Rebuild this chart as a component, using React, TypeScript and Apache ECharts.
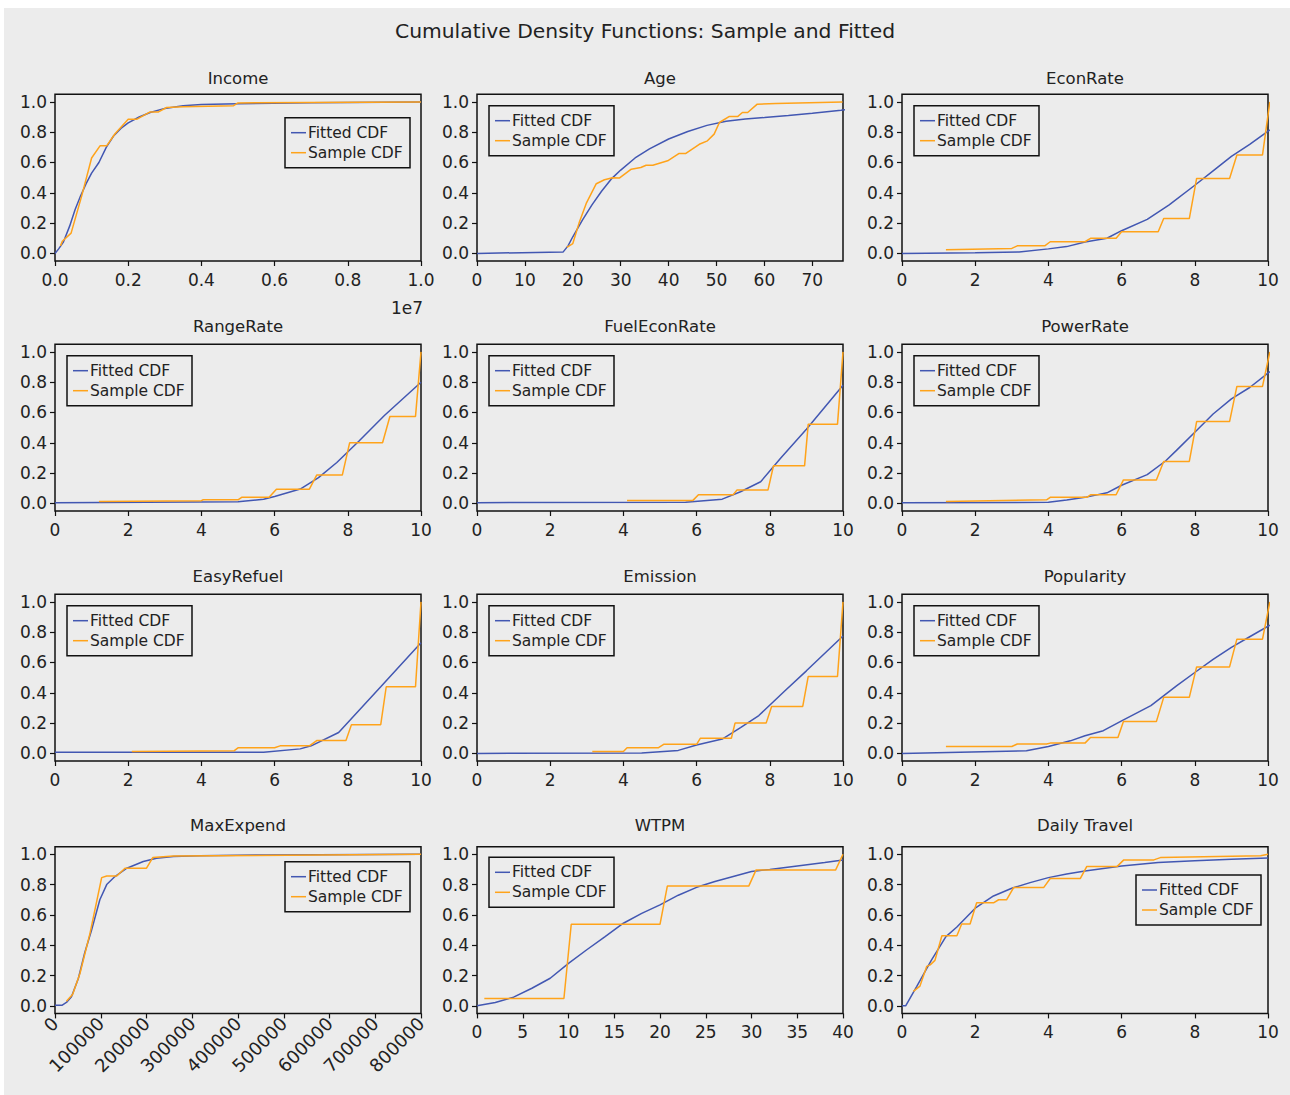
import React, { useEffect, useRef } from "react";
import * as echarts from "echarts";

const mainTitle = "Cumulative Density Functions: Sample and Fitted";
const panelTitles = ["Income", "Age", "EconRate", "RangeRate", "FuelEconRate", "PowerRate", "EasyRefuel", "Emission", "Popularity", "MaxExpend", "WTPM", "Daily Travel"];
const legendLabels = ["Fitted CDF", "Sample CDF"];

const yTicks = [0, 0.2, 0.4, 0.6, 0.8, 1.0];
const tenTicks = [0, 2, 4, 6, 8, 10];
const incomeTicks = [0, 2e6, 4e6, 6e6, 8e6, 1e7];
const ageTicks = [0, 10, 20, 30, 40, 50, 60, 70];
const maxExpendTicks = [0, 100000, 200000, 300000, 400000, 500000, 600000, 700000, 800000];
const wtpmTicks = [0, 5, 10, 15, 20, 25, 30, 35, 40];

const incomeFitted = [[0, 0], [100000, 0.03], [230000, 0.075], [400000, 0.18], [550000, 0.29], [700000, 0.38], [850000, 0.46], [1000000, 0.53], [1200000, 0.6], [1400000, 0.7], [1600000, 0.775], [1800000, 0.825], [2000000, 0.862], [2300000, 0.9], [2600000, 0.93], [3000000, 0.957], [3500000, 0.975], [4000000, 0.982], [5000000, 0.988], [7000000, 0.994], [10000000, 1.0]];
const incomeSample = [[150000, 0.05], [200000, 0.08], [440000, 0.134], [730000, 0.38], [1000000, 0.63], [1230000, 0.71], [1410000, 0.71], [1640000, 0.79], [2000000, 0.885], [2230000, 0.885], [2600000, 0.934], [2830000, 0.934], [3050000, 0.963], [3500000, 0.968], [4880000, 0.975], [5000000, 0.993], [10000000, 1.0]];

const ageFitted = [[0, 0], [18, 0.01], [19, 0.05], [20, 0.11], [22, 0.22], [24, 0.32], [26, 0.41], [28, 0.49], [30, 0.55], [33, 0.63], [36, 0.69], [40, 0.755], [44, 0.805], [48, 0.845], [52, 0.872], [56, 0.887], [60, 0.897], [65, 0.91], [70, 0.925], [76, 0.945], [78.7, 0.955]];
const ageSample = [[18.75, 0.04], [20, 0.065], [21.3, 0.2], [22.8, 0.33], [24.9, 0.46], [26.6, 0.486], [28.3, 0.5], [29.7, 0.497], [32.2, 0.556], [34.2, 0.567], [35.3, 0.582], [36.7, 0.582], [39.8, 0.611], [42.2, 0.66], [43.6, 0.66], [46.4, 0.72], [48.1, 0.743], [49.5, 0.787], [50.6, 0.864], [52.6, 0.903], [54.4, 0.903], [55.4, 0.93], [56.5, 0.93], [58.5, 0.985], [62.4, 0.989], [76.3, 1.0]];

const econFitted = [[0, 0], [2, 0.004], [3.2, 0.01], [4, 0.03], [4.5, 0.045], [5, 0.075], [5.6, 0.1], [6, 0.15], [6.7, 0.225], [7.3, 0.32], [8, 0.45], [8.5, 0.545], [9, 0.64], [9.5, 0.72], [10.05, 0.815]];
const econSample = [[1.2, 0.025], [3.0, 0.033], [3.15, 0.05], [3.9, 0.05], [4.05, 0.077], [5.0, 0.077], [5.15, 0.1], [5.85, 0.1], [6.0, 0.143], [7.0, 0.143], [7.15, 0.23], [7.85, 0.23], [8.05, 0.495], [8.95, 0.495], [9.15, 0.65], [9.85, 0.65], [10.05, 1.0]];

const rangeFitted = [[0, 0.005], [5, 0.011], [5.7, 0.028], [6, 0.046], [6.7, 0.095], [7.2, 0.17], [7.7, 0.27], [8.3, 0.41], [9, 0.58], [10, 0.8]];
const rangeSample = [[1.2, 0.013], [4.0, 0.018], [4.05, 0.024], [5.0, 0.024], [5.1, 0.04], [5.85, 0.04], [6.05, 0.094], [6.95, 0.094], [7.15, 0.187], [7.85, 0.187], [8.05, 0.4], [8.95, 0.4], [9.15, 0.574], [9.85, 0.574], [10.0, 1.0]];

const fuelFitted = [[0, 0.005], [5.7, 0.007], [6.7, 0.028], [7.2, 0.077], [7.75, 0.143], [8.3, 0.3], [9, 0.49], [10, 0.78]];
const fuelSample = [[4.1, 0.02], [5.9, 0.02], [6.05, 0.057], [7.0, 0.057], [7.1, 0.088], [7.95, 0.088], [8.1, 0.248], [8.95, 0.248], [9.05, 0.523], [9.85, 0.523], [10.0, 1.0]];

const powerFitted = [[0, 0.005], [4, 0.007], [4.5, 0.022], [5, 0.04], [5.6, 0.07], [6, 0.12], [6.7, 0.19], [7.2, 0.28], [7.5, 0.35], [8, 0.47], [8.5, 0.59], [9, 0.69], [9.5, 0.765], [10.05, 0.87]];
const powerSample = [[1.2, 0.013], [3.95, 0.024], [4.05, 0.04], [5.05, 0.04], [5.15, 0.057], [5.85, 0.057], [6.05, 0.155], [6.95, 0.155], [7.15, 0.277], [7.85, 0.277], [8.05, 0.54], [8.95, 0.54], [9.15, 0.772], [9.85, 0.772], [10.05, 1.0]];

const refuelFitted = [[0, 0.008], [5.7, 0.008], [6.7, 0.03], [7.0, 0.05], [7.75, 0.138], [8.9, 0.44], [10, 0.73]];
const refuelSample = [[2.1, 0.012], [4.9, 0.018], [5.0, 0.037], [6.0, 0.037], [6.15, 0.05], [6.95, 0.05], [7.15, 0.085], [7.95, 0.085], [8.1, 0.19], [8.9, 0.19], [9.05, 0.44], [9.85, 0.44], [10.0, 1.0]];

const emissionFitted = [[0, 0], [4.5, 0.003], [5.5, 0.02], [6, 0.055], [6.7, 0.095], [7.2, 0.17], [7.7, 0.25], [8.4, 0.41], [9, 0.545], [10, 0.775]];
const emissionSample = [[3.15, 0.013], [4.0, 0.013], [4.1, 0.037], [4.95, 0.037], [5.1, 0.06], [6.0, 0.06], [6.1, 0.1], [6.95, 0.1], [7.05, 0.2], [7.9, 0.2], [8.05, 0.31], [8.9, 0.31], [9.05, 0.508], [9.85, 0.508], [10.0, 1.0]];

const popularityFitted = [[0, 0], [3.4, 0.018], [4, 0.046], [4.6, 0.083], [5, 0.117], [5.5, 0.15], [6, 0.215], [6.8, 0.315], [7.5, 0.446], [8, 0.534], [8.5, 0.62], [9, 0.7], [9.5, 0.77], [10.05, 0.846]];
const popularitySample = [[1.2, 0.046], [3.0, 0.046], [3.15, 0.062], [3.95, 0.062], [4.05, 0.068], [5.0, 0.068], [5.15, 0.105], [5.9, 0.105], [6.05, 0.21], [6.95, 0.21], [7.15, 0.37], [7.85, 0.37], [8.05, 0.571], [8.95, 0.571], [9.15, 0.754], [9.85, 0.754], [10.05, 1.0]];

const maxExpendFitted = [[0, 0.003], [15000, 0.003], [25000, 0.022], [36000, 0.06], [51000, 0.18], [65000, 0.35], [80000, 0.5], [98000, 0.7], [113000, 0.8], [131000, 0.853], [157000, 0.908], [193000, 0.952], [222000, 0.974], [259000, 0.985], [317000, 0.991], [463000, 0.996], [800000, 1.0]];
const maxExpendSample = [[25000, 0.03], [38700, 0.077], [54700, 0.215], [76600, 0.48], [102000, 0.846], [113000, 0.857], [135000, 0.857], [153000, 0.908], [200000, 0.908], [213700, 0.978], [259000, 0.989], [800000, 1.0]];

const wtpmFitted = [[0, 0], [2, 0.022], [4, 0.057], [6, 0.116], [8, 0.182], [10, 0.28], [12, 0.37], [14, 0.457], [16, 0.545], [18, 0.61], [20, 0.666], [22, 0.73], [24, 0.782], [26, 0.82], [28, 0.853], [30, 0.886], [32, 0.9], [35, 0.923], [38, 0.945], [40, 0.963]];
const wtpmSample = [[0.8, 0.048], [9.5, 0.048], [10.3, 0.538], [20, 0.538], [20.8, 0.79], [29.7, 0.79], [30.5, 0.897], [39.2, 0.897], [40, 1.0]];

const travelFitted = [[0, 0], [0.1, 0], [0.4, 0.127], [0.8, 0.3], [1.2, 0.457], [1.5, 0.52], [2, 0.644], [2.5, 0.725], [3, 0.776], [3.5, 0.813], [4, 0.846], [4.5, 0.87], [5, 0.89], [6, 0.923], [7, 0.945], [8, 0.958], [9, 0.967], [10, 0.976]];
const travelSample = [[0.31, 0.095], [0.49, 0.13], [0.675, 0.26], [0.77, 0.27], [0.9, 0.3], [1.09, 0.462], [1.5, 0.462], [1.63, 0.54], [1.86, 0.54], [2.04, 0.68], [2.5, 0.68], [2.64, 0.7], [2.86, 0.7], [3.05, 0.78], [3.87, 0.78], [4.05, 0.84], [4.87, 0.84], [5.05, 0.92], [5.88, 0.92], [6.06, 0.963], [6.88, 0.963], [7.06, 0.978], [9.8, 0.99], [10, 1.0]];

const FONT = "'DejaVu Sans', sans-serif";
const BLUE = "#4257b2";
const ORANGE = "#ffa31a";
const BG = "#ececec";
const INK = "#222222";

const W = 1286;
const H = 1087;
const colLeft = [51, 473, 898];
const rowTop = [86.3, 336.3, 586.3, 838.7];
const gridW = 366;
const gridH = 166.7;
const titleY = [70.3, 318.7, 568.7, 817];
const legendW = 125;
const legendH = 50;
const TICK_FONT = 17;

const fmtOne = (v: number) => v.toFixed(1);
const fmtInt = (v: number) => String(Math.round(v));
const fmtIncome = (v: number) => (v / 1e7).toFixed(1);

type Panel = {
  fitted: number[][];
  sample: number[][];
  xMax: number;
  xTicks: number[];
  fmt: (v: number) => string;
  rotate?: number;
  legend: { side: "left" | "right"; dx: number; dy: number };
};

const UL = { side: "left" as const, dx: 12, dy: 11.4 };

const panels: Panel[] = [
  { fitted: incomeFitted, sample: incomeSample, xMax: 1e7, xTicks: incomeTicks, fmt: fmtIncome, legend: { side: "right", dx: 11, dy: 23.4 } },
  { fitted: ageFitted, sample: ageSample, xMax: 76.4, xTicks: ageTicks, fmt: fmtInt, legend: UL },
  { fitted: econFitted, sample: econSample, xMax: 10, xTicks: tenTicks, fmt: fmtInt, legend: UL },
  { fitted: rangeFitted, sample: rangeSample, xMax: 10, xTicks: tenTicks, fmt: fmtInt, legend: UL },
  { fitted: fuelFitted, sample: fuelSample, xMax: 10, xTicks: tenTicks, fmt: fmtInt, legend: UL },
  { fitted: powerFitted, sample: powerSample, xMax: 10, xTicks: tenTicks, fmt: fmtInt, legend: UL },
  { fitted: refuelFitted, sample: refuelSample, xMax: 10, xTicks: tenTicks, fmt: fmtInt, legend: UL },
  { fitted: emissionFitted, sample: emissionSample, xMax: 10, xTicks: tenTicks, fmt: fmtInt, legend: UL },
  { fitted: popularityFitted, sample: popularitySample, xMax: 10, xTicks: tenTicks, fmt: fmtInt, legend: UL },
  { fitted: maxExpendFitted, sample: maxExpendSample, xMax: 800000, xTicks: maxExpendTicks, fmt: fmtInt, rotate: 45, legend: { side: "right", dx: 11, dy: 15 } },
  { fitted: wtpmFitted, sample: wtpmSample, xMax: 40, xTicks: wtpmTicks, fmt: fmtInt, legend: { side: "left", dx: 12, dy: 10.6 } },
  { fitted: travelFitted, sample: travelSample, xMax: 10, xTicks: tenTicks, fmt: fmtInt, legend: { side: "right", dx: 7, dy: 28.3 } },
];

function textEl(text: string, x: number, y: number, size: number, align: string) {
  return {
    type: "text",
    x,
    y,
    silent: true,
    style: {
      text,
      fontSize: size,
      fontFamily: FONT,
      fill: INK,
      align,
      verticalAlign: "middle",
      textAlign: align,
      textVerticalAlign: "middle",
    },
  };
}

function legendEl(x: number, y: number) {
  return {
    type: "group",
    x,
    y,
    children: [
      { type: "rect", shape: { x: 0, y: 0, width: legendW, height: legendH }, style: { fill: BG, stroke: "#111", lineWidth: 1.5 } },
      { type: "line", shape: { x1: 6, y1: 15, x2: 21, y2: 15 }, style: { stroke: BLUE, lineWidth: 1.5 } },
      { type: "line", shape: { x1: 6, y1: 35, x2: 21, y2: 35 }, style: { stroke: ORANGE, lineWidth: 1.5 } },
      textEl(legendLabels[0], 23, 15, 15.5, "left"),
      textEl(legendLabels[1], 23, 35, 15.5, "left"),
    ],
  };
}

function buildOption() {
  const grid: any[] = [];
  const xAxis: any[] = [];
  const yAxis: any[] = [];
  const series: any[] = [];
  const graphic: any[] = [textEl(mainTitle, 641, 23, 20.3, "center")];

  panels.forEach((p, i) => {
    const col = i % 3;
    const row = Math.floor(i / 3);
    const left = colLeft[col];
    const top = rowTop[row];
    grid.push({
      left,
      top,
      width: gridW,
      height: gridH,
      show: true,
      borderColor: "#111",
      borderWidth: 1.5,
      backgroundColor: BG,
      containLabel: false,
      outerBoundsMode: "none",
    });
    xAxis.push({
      type: "value",
      gridIndex: i,
      min: 0,
      max: p.xMax,
      splitLine: { show: false },
      axisLine: { show: false, onZero: false },
      axisTick: { show: true, length: 5, lineStyle: { color: "#111", width: 1.2 }, customValues: p.xTicks },
      axisLabel: {
        customValues: p.xTicks,
        formatter: p.fmt,
        color: INK,
        fontSize: p.rotate ? 18 : TICK_FONT,
        fontFamily: FONT,
        margin: p.rotate ? 7 : 10,
        rotate: p.rotate || 0,
      },
    });
    yAxis.push({
      type: "value",
      gridIndex: i,
      min: -0.05,
      max: 1.05,
      splitLine: { show: false },
      axisLine: { show: false, onZero: false },
      axisTick: { show: true, length: 5, lineStyle: { color: "#111", width: 1.2 }, customValues: yTicks },
      axisLabel: { customValues: yTicks, formatter: fmtOne, color: INK, fontSize: TICK_FONT, fontFamily: FONT, margin: 8 },
    });
    series.push({
      type: "line",
      name: legendLabels[0],
      xAxisIndex: i,
      yAxisIndex: i,
      data: p.fitted,
      symbol: "none",
      clip: false,
      silent: true,
      z: 2,
      lineStyle: { color: BLUE, width: 1.5 },
      itemStyle: { color: BLUE },
    });
    series.push({
      type: "line",
      name: legendLabels[1],
      xAxisIndex: i,
      yAxisIndex: i,
      data: p.sample,
      symbol: "none",
      clip: false,
      silent: true,
      z: 3,
      lineStyle: { color: ORANGE, width: 1.5 },
      itemStyle: { color: ORANGE },
    });
    graphic.push(textEl(panelTitles[i], left + gridW / 2, titleY[row], 16.5, "center"));
    const lx = p.legend.side === "left" ? left + p.legend.dx : left + gridW - p.legend.dx - legendW;
    graphic.push(legendEl(lx, top + p.legend.dy));
  });

  graphic.push(textEl("1e7", colLeft[0] + gridW + 2, 300, TICK_FONT, "right"));

  return {
    animation: false,
    backgroundColor: BG,
    grid,
    xAxis,
    yAxis,
    series,
    graphic,
  };
}

export default function App() {
  const ref = useRef<HTMLDivElement>(null);
  useEffect(() => {
    if (!ref.current) return;
    const chart = echarts.init(ref.current, null, { renderer: "svg" });
    chart.setOption(buildOption() as any);
    return () => chart.dispose();
  }, []);
  return <div ref={ref} style={{ position: "absolute", left: 4, top: 8, width: W, height: H }} />;
}
